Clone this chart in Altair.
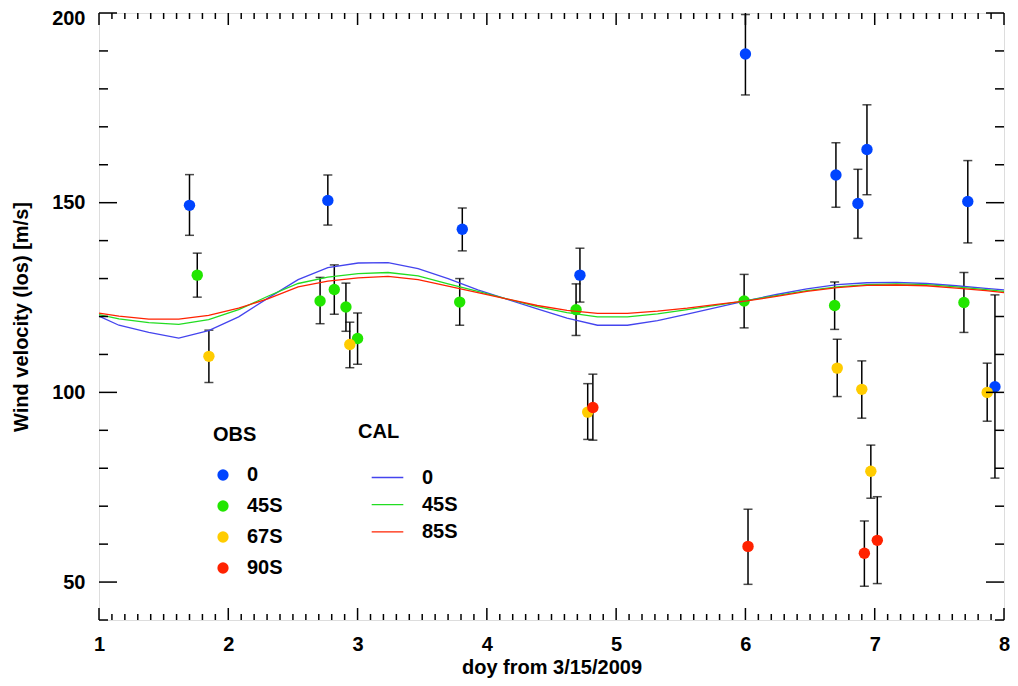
import altair as alt
import pandas as pd

# ---------------- data ----------------
obs_groups = ["0", "45S", "67S", "90S"]

obs_0_x = [1.70, 2.77, 3.81, 4.72, 6.00, 6.70, 6.87, 6.94, 7.72, 7.93]
obs_0_y = [149.3, 150.6, 143.0, 130.9, 189.2, 157.3, 149.8, 164.0, 150.3, 101.5]
obs_0_hi = [157.4, 157.3, 148.6, 138.0, 199.6, 165.8, 158.8, 175.8, 161.1, 125.7]
obs_0_lo = [141.4, 144.1, 137.3, 123.8, 178.4, 148.8, 140.6, 152.1, 139.4, 77.4]

obs_45_x = [1.76, 2.71, 2.82, 2.91, 3.00, 3.79, 4.69, 5.99, 6.69, 7.69]
obs_45_y = [130.9, 124.1, 127.1, 122.5, 114.2, 123.8, 121.8, 124.1, 122.9, 123.7]
obs_45_hi = [136.7, 130.3, 133.6, 128.8, 120.9, 130.0, 128.6, 131.1, 129.1, 131.6]
obs_45_lo = [125.1, 118.1, 120.6, 116.1, 107.4, 117.7, 115.0, 117.0, 116.6, 115.8]

obs_67_x = [1.85, 2.94, 4.78, 6.71, 6.90, 6.97, 7.87]
obs_67_y = [109.5, 112.6, 94.8, 106.4, 100.8, 79.2, 100.0]
obs_67_hi = [116.4, 118.5, 102.3, 114.0, 108.3, 86.1, 107.7]
obs_67_lo = [102.6, 106.5, 87.6, 98.9, 93.2, 72.1, 92.4]

obs_90_x = [4.82, 6.02, 6.92, 7.02]
obs_90_y = [96.0, 59.4, 57.6, 61.0]
obs_90_hi = [104.8, 69.2, 66.1, 72.5]
obs_90_lo = [87.4, 49.4, 48.9, 49.6]

cal_models = ["0", "45S", "85S"]
cal_x = [1.0, 1.154, 1.385, 1.617, 1.848, 2.08, 2.31, 2.54, 2.77, 3.005, 3.236,
         3.468, 3.70, 3.93, 4.16, 4.39, 4.62, 4.856, 5.087, 5.32, 5.55, 5.78,
         6.01, 6.24, 6.475, 6.71, 6.94, 7.17, 7.40, 7.63, 7.86, 8.0]
cal_0 = [120.1, 117.7, 115.8, 114.3, 116.3, 119.9, 124.9, 129.7, 132.9, 134.1, 134.2,
         132.6, 130.0, 127.0, 124.5, 122.0, 119.6, 117.7, 117.7, 118.9, 120.6, 122.4,
         124.2, 125.8, 127.3, 128.4, 128.9, 129.0, 128.7, 128.1, 127.4, 127.0]
cal_45 = [120.5, 119.4, 118.4, 117.9, 119.2, 121.8, 125.4, 128.7, 130.4, 131.3, 131.6,
          130.7, 128.6, 126.6, 124.6, 122.6, 121.0, 119.9, 119.9, 120.7, 121.8, 123.0,
          124.2, 125.5, 126.8, 127.8, 128.4, 128.6, 128.4, 127.8, 127.1, 126.6]
cal_85 = [120.9, 120.1, 119.3, 119.3, 120.3, 122.2, 124.7, 127.8, 129.3, 130.2, 130.6,
          129.7, 128.0, 126.3, 124.6, 122.9, 121.6, 120.8, 120.8, 121.4, 122.2, 123.2,
          124.1, 125.3, 126.6, 127.6, 128.2, 128.3, 128.1, 127.5, 126.8, 126.3]

x_major = [1, 2, 3, 4, 5, 6, 7, 8]
y_major = [50, 100, 150, 200]
x_minor = [round(1 + i / 10, 1) for i in range(71) if i % 10 != 0]
y_minor = [v for v in range(40, 201, 10) if v % 50 != 0]

obs_colors = ["#0044FF", "#22E600", "#FFCC00", "#FF2200"]
cal_colors = ["#4444EE", "#22DD22", "#FF2200"]

# ---------------- tables ----------------
rows = []
for g, xs_, ys_, his, los in [
    ("0", obs_0_x, obs_0_y, obs_0_hi, obs_0_lo),
    ("45S", obs_45_x, obs_45_y, obs_45_hi, obs_45_lo),
    ("67S", obs_67_x, obs_67_y, obs_67_hi, obs_67_lo),
    ("90S", obs_90_x, obs_90_y, obs_90_hi, obs_90_lo),
]:
    for x, y, hi, lo in zip(xs_, ys_, his, los):
        rows.append({"x": x, "y": y, "hi": hi, "lo": lo, "group": g,
                     "order": obs_groups.index(g)})
obs = pd.DataFrame(rows)

crow = []
for m, ys_ in zip(cal_models, [cal_0, cal_45, cal_85]):
    for x, y in zip(cal_x, ys_):
        crow.append({"x": x, "y": y, "model": m})
cal = pd.DataFrame(crow)

W, H = 905, 607
FONT = "Liberation Sans"
xs = alt.Scale(domain=[1, 8], nice=False, zero=False)
ys = alt.Scale(domain=[40, 200], nice=False, zero=False)

x_axis = alt.Axis(
    orient="bottom", values=x_major, ticks=False, tickSize=0, domain=False, grid=False,
    labelFont=FONT, labelFontSize=20, labelFontWeight="bold", labelColor="black",
    labelPadding=14, labelFlush=False, labelOverlap=False, format="d",
    title="doy from 3/15/2009", titleFont=FONT, titleFontSize=20,
    titleFontWeight="bold", titleColor="black", titlePadding=3,
)
y_axis = alt.Axis(
    orient="left", values=y_major, ticks=False, tickSize=0, domain=False, grid=False,
    labelFont=FONT, labelFontSize=20, labelFontWeight="bold", labelColor="black",
    labelPadding=14, labelFlush=True, labelFlushOffset=5, labelOverlap=False,
    format="d",
    title="Wind velocity (los) [m/s]", titleFont=FONT, titleFontSize=20,
    titleFontWeight="bold", titleColor="black", titlePadding=20,
)

base = alt.Chart(obs)

bars = base.mark_rule(color="black", strokeWidth=1.5).encode(
    x=alt.X("x:Q", scale=xs, axis=x_axis),
    y=alt.Y("lo:Q", scale=ys, axis=y_axis),
    y2="hi:Q",
)
caps_hi = base.mark_tick(orient="horizontal", size=9, thickness=1.5, color="black").encode(
    x=alt.X("x:Q", scale=xs, axis=None),
    y=alt.Y("hi:Q", scale=ys, axis=None),
)
caps_lo = base.mark_tick(orient="horizontal", size=9, thickness=1.5, color="black").encode(
    x=alt.X("x:Q", scale=xs, axis=None),
    y=alt.Y("lo:Q", scale=ys, axis=None),
)
points = base.mark_circle(size=130, opacity=1).encode(
    x=alt.X("x:Q", scale=xs, axis=None),
    y=alt.Y("y:Q", scale=ys, axis=None),
    fill=alt.Fill(
        "group:N",
        scale=alt.Scale(domain=obs_groups, range=obs_colors),
        legend=alt.Legend(
            title="OBS", orient="none", legendX=114, legendY=412, padding=0,
            titleFont=FONT, titleFontSize=20, titleFontWeight="bold", titleColor="black",
            labelFont=FONT, labelFontSize=20, labelFontWeight="bold", labelColor="black",
            symbolType="circle", symbolSize=127, symbolStrokeWidth=0,
            rowPadding=11, titlePadding=20, labelOffset=14,
        ),
    ),
    order="order:Q",
)
lines = alt.Chart(cal).mark_line(strokeWidth=1.3).encode(
    x=alt.X("x:Q", scale=xs, axis=None),
    y=alt.Y("y:Q", scale=ys, axis=None),
    stroke=alt.Stroke(
        "model:N",
        scale=alt.Scale(domain=cal_models, range=cal_colors),
        legend=alt.Legend(
            title="CAL", orient="none", legendX=259, legendY=409, padding=0,
            titleFont=FONT, titleFontSize=20, titleFontWeight="bold", titleColor="black",
            labelFont=FONT, labelFontSize=20, labelFontWeight="bold", labelColor="black",
            symbolType="stroke", symbolSize=1000, symbolStrokeWidth=1.3,
            symbolOffset=13, rowPadding=0.2, titlePadding=19, labelOffset=18,
        ),
    ),
)


# inward axis ticks, placed through the same scales
def xticks(values, y0, y1):
    return alt.Chart(pd.DataFrame({"v": values})).mark_rule(
        color="black", strokeWidth=1.5).encode(
        x=alt.X("v:Q", scale=xs, axis=None), y=alt.value(y0), y2=alt.value(y1))


def yticks(values, x0, x1):
    return alt.Chart(pd.DataFrame({"v": values})).mark_rule(
        color="black", strokeWidth=1.5).encode(
        y=alt.Y("v:Q", scale=ys, axis=None), x=alt.value(x0), x2=alt.value(x1))


ticks = [
    xticks(x_major, H, H - 12), xticks(x_minor, H, H - 6),
    xticks(x_major, 0, 12), xticks(x_minor, 0, 6),
    yticks(y_major, 0, 18), yticks(y_minor, 0, 9),
    yticks(y_major, W, W - 18), yticks(y_minor, W, W - 9),
]

chart = (
    alt.layer(bars, caps_hi, caps_lo, points, lines, *ticks)
    .resolve_axis(x="independent", y="independent")
    .properties(
        width=W, height=H,
        padding={"left": 91, "top": 5, "right": 6, "bottom": 58},
        autosize=alt.AutoSizeParams(type="none"),
    )
    .configure_view(stroke="#111", strokeWidth=1.6)
    .configure(background="white")
)

chart.save("out.html", embed_options={"renderer": "svg", "actions": False})
